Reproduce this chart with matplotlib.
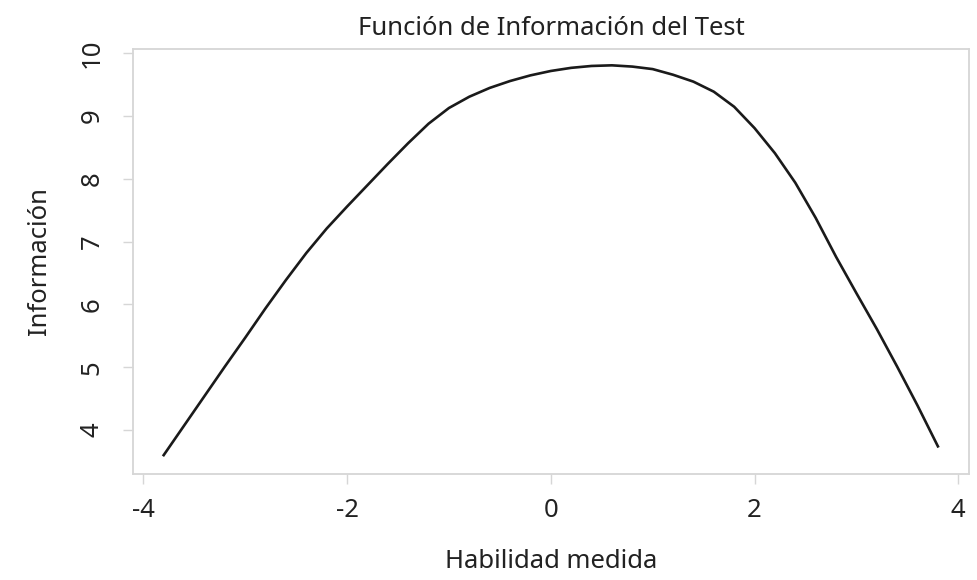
import matplotlib
matplotlib.use("Agg")
import matplotlib.pyplot as plt

# habilidad (theta) y la informacion del test
theta = [-3.8, -3.6, -3.4, -3.2, -3.0, -2.8, -2.6, -2.4, -2.2, -2.0,
         -1.8, -1.6, -1.4, -1.2, -1.0, -0.8, -0.6, -0.4, -0.2, 0.0,
         0.2, 0.4, 0.6, 0.8, 1.0, 1.2, 1.4, 1.6, 1.8, 2.0,
         2.2, 2.4, 2.6, 2.8, 3.0, 3.2, 3.4, 3.6, 3.8]
info = [3.60, 4.07, 4.54, 5.01, 5.47, 5.94, 6.39, 6.82, 7.21, 7.56,
        7.90, 8.24, 8.57, 8.88, 9.13, 9.31, 9.45, 9.56, 9.65, 9.72,
        9.77, 9.80, 9.81, 9.79, 9.75, 9.66, 9.55, 9.39, 9.15, 8.81,
        8.41, 7.94, 7.38, 6.76, 6.18, 5.61, 5.01, 4.39, 3.74]

xticks = [-4, -2, 0, 2, 4]
yticks = [4, 5, 6, 7, 8, 9, 10]

plt.rcParams['font.family'] = ['Noto Sans', 'DejaVu Sans']
txt = '#222222'
gris = '#d6d6d6'
fs = 18.5

fig = plt.figure(figsize=(9.78, 5.80), dpi=100)
ax = fig.add_axes([0.1357, 0.1828, 0.8556, 0.7327])

ax.plot(theta, info, '-', color='#1a1a1a', lw=1.9, solid_joinstyle='round')

ax.set_xlim(-4.104, 4.11)
ax.set_ylim(3.30, 10.07)

for s in ax.spines.values():
    s.set_color(gris)
    s.set_linewidth(1.3)

ax.set_xticks(xticks)
ax.set_xticklabels([str(v) for v in xticks])
ax.set_yticks(yticks)
ax.set_yticklabels([str(v) for v in yticks], rotation=90, va='center')
ax.tick_params(axis='both', direction='out', length=7, width=1.0,
               color=gris, labelcolor=txt, labelsize=fs)
ax.tick_params(axis='x', pad=10)
ax.tick_params(axis='y', pad=13)

ax.set_title('Función de Información del Test', fontsize=fs, color=txt, pad=10)
ax.set_xlabel('Habilidad medida', fontsize=fs, color=txt, labelpad=19)
ax.set_ylabel('Información', fontsize=fs, color=txt, labelpad=20)

fig.savefig('out.png', dpi=100, facecolor='white')
